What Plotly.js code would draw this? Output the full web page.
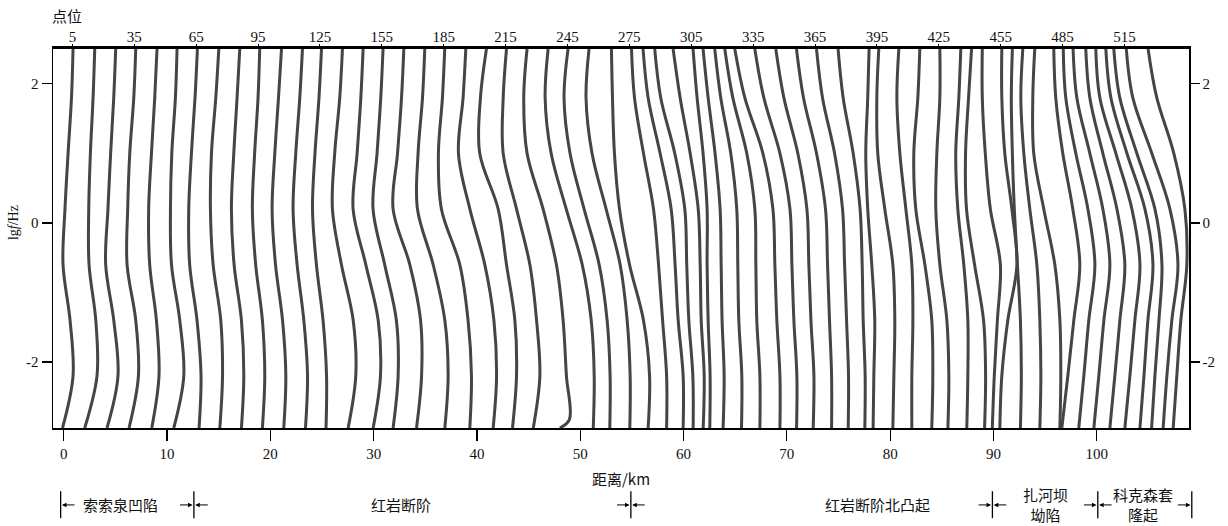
<!DOCTYPE html>
<html><head><meta charset="utf-8">
<script src="https://cdn.plot.ly/plotly-3.0.1.min.js"></script>
<style>html,body{margin:0;padding:0;background:#fff}</style>
</head><body><div id="chart" style="width:1228px;height:526px"></div>
<script>
// frequency levels (lg f / Hz) at which each curve is sampled
const levels = [2.5, 1.8, 1.0, 0.2, -0.6, -1.4, -2.2, -2.95];
// station position (km) of each curve (value at top level)
const stationKm = [0.90,3.00,5.03,6.97,9.03,10.97,12.94,15.01,17.04,18.97,
  21.08,23.11,24.95,26.98,28.98,30.91,32.92,34.95,36.88,38.92,
  40.92,42.86,44.85,46.89,48.82,50.85,53.02,54.96,56.08,57.21,
  58.99,60.92,61.89,63.02,63.99,64.96,66.90,68.93,70.93,72.87,
  74.96,77.96,78.90,80.84,82.87,84.81,86.84,87.88,88.92,90.81,
  91.83,92.84,94.00,95.84,96.76,97.71,98.94,99.91,100.88,101.65,
  102.86,104.97];
// deviations from station (units of 0.1 km) at levels 1.8 ... -2.95
const devWest = [
  [-1.5,-4.8,-7.8,-9.7,-2.9,0,-10.2],
  [-1.6,-4.2,-5.8,-5.5,1,2.2,-9.7],
  [-1.9,-4.9,-7.5,-9.7,-1.9,2.2,-8.4],
  [-1.9,-5.8,-7.8,-8.4,0,2.6,-6.5],
  [-2.2,-5.4,-8.1,-7.1,-0.6,1.9,-5.1],
  [-1.6,-5.1,-6.4,-5.4,2.6,6.5,-3.2],
  [-2.3,-5.8,-8.4,-7.5,-0.4,3.5,1.6],
  [-2.9,-7.1,-8.1,-5.5,1.9,3.6,1],
  [-2.6,-5.8,-8.1,-5.5,1.6,3.9,1.6],
  [-1.6,-4.9,-7.1,-3.9,2.6,4.9,2.6],
  [-2.9,-6.5,-9.1,-5.8,1,4.2,2.2],
  [-2.6,-6.5,-9.1,-5.2,1.3,4.9,2.9],
  [-2.4,-6.3,-8.7,-4.9,1.5,4.9,4.4]];
const devCentral = [
  [-2.6,-7.5,-9.7,-1,10.4,12.9,5.5],
  [-2.2,-5.8,-9.7,2.6,14.6,16.8,9.7],
  [-2.2,-5.8,-9.7,1.6,12.9,14.6,9.7],
  [-2.2,-6.1,-10.4,5.8,16.2,17.2,12.3],
  [-2.2,-6.5,-7.1,8.1,19.4,22.6,19.4],
  [-2.2,-6.1,-3.2,14.6,22.6,25.9,24.3],
  [-2.6,-7.1,3.9,18.4,27.2,29.8,26.5],
  [-5.8,-6.5,11.3,19.4,27.5,29.1,25.2],
  [-3.2,-3.2,9.7,22.6,29.1,32.3,25.9],
  [-3.2,0,15.5,28.4,34.9,38.1,31.7],
  [-2.9,2.9,17.5,33,41.7,44.6,43.7],
  [-3.9,1.9,15.5,30.1,37.8,40.7,40.4],
  [-2.9,2.9,16.5,30.1,36.9,39.8,39.5],
  [1,2.9,7.8,17.5,31,36.9,35.5]];
const devEastCentral = [
  [2.9,11.6,21.3,26.2,30.1,34,34],
  [4.9,16.5,27.2,31,34,38.8,38.8],
  [5.8,19.4,29.1,31,33,36.9,37.2],
  [6.8,16.5,24.3,26.2,27.2,30.1,29.1],
  [3.9,9.7,13.6,13.6,14.6,16.5,16.2],
  [4.9,11.6,16.5,17.5,18.4,20.4,19.4],
  [5.8,15.5,21.3,22.3,23.3,26.2,25.9],
  [7.8,21.3,29.1,30.1,31,34,34],
  [9.7,27.2,36.9,38.8,40.7,43.7,43.7],
  [8.7,24.3,34,35.9,37.8,40.7,40.4],
  [7.8,21.3,30.1,32,34,36.9,36.2],
  [6.8,19.4,28.1,30.1,32,34,34],
  [5.8,17.5,25.2,27.2,29.1,31,30.7],
  [4.9,14.6,21.3,23.3,24.3,26.2,25.9]];
const devEast = [
  [-1.3,-3.2,-1.3,2.6,5.5,4.6,3.9],
  [-1.9,-1,5.8,13.6,15.5,14.6,13.6],
  [-1.9,1,6.8,12.6,13.6,12.6,12.6],
  [-1.9,-5.8,-3.9,4.9,11.6,12.6,11.6],
  [0,-2.9,-3.9,0,6.8,8.7,7.8],
  [-1.9,-4.9,-2.9,2.9,6.8,6.8,5.8],
  [-2.9,-5.8,-4.9,2.9,11.6,13.6,12.6],
  [0,2.9,7.8,17.5,14.6,11.6,9.7],
  [0,2.9,9.7,14.6,5.8,0,-1.9],
  [-1,0,1.9,4.9,7.8,8.7,7.8],
  [-1.9,1,6.8,13.6,16.5,17.5,16.5],
  [-1.9,-1,8.7,19.4,24.3,25.2,24.3]];
const devFarEast = [
  [1.9,8.7,18.4,25.2,19.4,13.6,7.8],
  [2.4,12.1,23.8,30.6,24.7,19.9,15],
  [3.6,16.2,28.8,35.6,29.8,24.9,20.1],
  [3.9,16.5,30.1,37.8,33,28.1,23.3],
  [3.9,19.4,34.9,42.7,37.8,33,28.1],
  [4.9,20.4,37.8,45.6,40.7,36.9,33],
  [5.8,22.3,39.8,46.6,43.7,39.8,36.6],
  [6.3,24.7,42.2,50,44.1,39.3,35.7],
  [8.4,24.9,35.6,37.5,31.7,27.8,24.3]];
// extra sample for the curve with a hook near the lowest frequency
const hookCurve = 22;      // index (0-based) of curve 23
const hookLevel = -2.83;
const hookDev = 41;        // 0.1 km

const kmTicks = [0,10,20,30,40,50,60,70,80,90,100];
const pointTicks = [5,35,65,95,125,155,185,215,245,275,305,335,365,395,425,455,485,515];
const yTicks = [-2,0,2];
const yTickText = ['-2','0','2'];
const regionBounds = [-0.3, 12.6, 54.9, 89.9, 100.1, 109.2];
const regionNames = ['索索泉凹陷','红岩断阶','红岩断阶北凸起','扎河坝<br>坳陷','科克森套<br>隆起'];
const regionLabelKm = [5.5, 32.6, 78.8, 95.0, 104.5];

// axis geometry
const X_RANGE = [-1.04, 108.93];
const Y_RANGE = [-2.95, 2.5];
const P_RANGE = [-4.41, 546.3];  // point-number axis aligned with the km axis
const FONT = 'Liberation Serif';
const CJK = 'Noto Sans CJK SC';

const dev = devWest.concat(devCentral, devEastCentral, devEast, devFarEast);
const traces = stationKm.map((s, i) => {
  let xs = [s].concat(dev[i].map(d => s + d / 10));
  let ys = levels.slice();
  let shape = 'spline';
  if (i === hookCurve) {
    xs.splice(xs.length - 1, 0, s + hookDev / 10);
    ys.splice(ys.length - 1, 0, hookLevel);
  }
  return {
    type: 'scatter', mode: 'lines', x: xs, y: ys,
    line: {color: '#454545', width: 3, shape: shape, smoothing: 1},
    hoverinfo: 'skip', showlegend: false
  };
});
traces.push({type:'scatter', mode:'lines', x:[], y:[], xaxis:'x2', yaxis:'y2', showlegend:false, hoverinfo:'skip'});

const toPaper = km => (km - X_RANGE[0]) / (X_RANGE[1] - X_RANGE[0]);
const shapes = [];
const annotations = [];
const BAR_Y0 = -0.238, BAR_Y1 = -0.167, ROW_Y = -0.203;
regionBounds.forEach((b, i) => {
  const xp = toPaper(b);
  shapes.push({type:'line', xref:'paper', yref:'paper', x0:xp, x1:xp, y0:BAR_Y0, y1:BAR_Y1, line:{color:'#000', width:1.3}});
  if (i > 0) annotations.push({xref:'paper', yref:'paper', x:xp - 0.0012, y:ROW_Y, ax:-14, ay:0, axref:'pixel', ayref:'pixel', text:'', showarrow:true, arrowhead:2, arrowsize:0.9, arrowwidth:1, arrowcolor:'#000'});
  if (i < regionBounds.length - 1) annotations.push({xref:'paper', yref:'paper', x:xp + 0.0012, y:ROW_Y, ax:14, ay:0, axref:'pixel', ayref:'pixel', text:'', showarrow:true, arrowhead:2, arrowsize:0.9, arrowwidth:1, arrowcolor:'#000'});
});
regionNames.forEach((n, i) => {
  annotations.push({xref:'paper', yref:'paper', x:toPaper(regionLabelKm[i]), y:ROW_Y, text:n, showarrow:false,
    font:{family:CJK, size:15, color:'#111'}, xanchor:'center', yanchor:'middle'});
});
annotations.push({xref:'paper', yref:'paper', x:-0.003, y:1.088, xanchor:'left', yanchor:'middle', text:'点位', showarrow:false, font:{family:CJK, size:15, color:'#111'}});
annotations.push({xref:'paper', yref:'paper', x:-0.0346, y:0.5425, xanchor:'center', yanchor:'middle', textangle:-90, text:'lg<i>f</i>/Hz', showarrow:false, font:{family:FONT, size:14, color:'#111'}});

const axisCommon = {showgrid:false, zeroline:false, showline:true, linecolor:'#000', tickcolor:'#000',
  tickfont:{family:FONT, size:15, color:'#111'}, ticks:'outside', fixedrange:true};

const layout = {
  width:1228, height:526, paper_bgcolor:'#fff', plot_bgcolor:'#fff',
  margin:{l:53, r:39, t:49, b:98},
  showlegend:false,
  xaxis: Object.assign({}, axisCommon, {range:X_RANGE, tickvals:kmTicks, ticklen:11, tickwidth:1.3, linewidth:1.5,
    title:{text:'距离/km', font:{family:CJK, size:15, color:'#111'}, standoff:14}}),
  xaxis2: Object.assign({}, axisCommon, {overlaying:'x', side:'top', anchor:'y', range:P_RANGE, tickvals:pointTicks,
    ticklen:2, tickwidth:1, linewidth:3.5, ticklabelstandoff:-4}),
  yaxis: Object.assign({}, axisCommon, {range:Y_RANGE, tickvals:yTicks, ticktext:yTickText, ticklen:10, tickwidth:1.3, linewidth:1.5}),
  yaxis2: Object.assign({}, axisCommon, {overlaying:'y', side:'right', anchor:'x', range:Y_RANGE, tickvals:yTicks, ticktext:yTickText,
    ticklen:9, tickwidth:1.3, linewidth:1.5}),
  shapes: shapes,
  annotations: annotations
};
Plotly.newPlot('chart', traces, layout, {staticPlot:true, displayModeBar:false});
</script></body></html>
